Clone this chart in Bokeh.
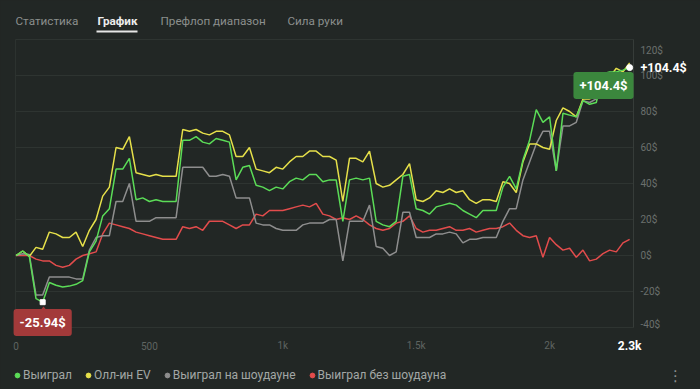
from bokeh.plotting import figure
from bokeh.models import (Range1d, Label, Legend, LegendItem, PolyAnnotation,
                          GlobalInlineStyleSheet)
from bokeh.core.properties import value
from bokeh.embed import file_html
from bokeh.resources import INLINE

# ---------------- data ----------------
hands = list(range(0, 2301, 25))

green = [0, 2.5, -0.5, -24, -25.94, -15, -16.5, -17.5, -17, -16,
         -14, 2, 8, 22, 26, 48, 48, 54, 31, 32,
         30, 31, 30, 30, 30, 64, 64, 66, 63, 62,
         65, 64, 63, 42, 49, 50, 39, 38, 36, 38,
         37, 41, 43, 42, 45, 45, 41, 42, 42, 19,
         42, 43, 42, 43, 19, 17, 16, 19, 44, 45,
         26, 25, 23, 27, 28, 29, 28, 25, 23, 21,
         25, 25, 25, 38, 44, 37, 53, 64, 81, 74,
         77, 47, 79, 78, 77, 86, 84, 85, 101, 102,
         102, 103, 104.4]

yellow = [0, 2.5, -0.5, 4.5, 3.5, 13, 12, 10, 10, 13,
          5, 14, 20, 33, 38, 60, 59, 66, 46, 45,
          44, 45, 44, 44, 44, 70, 69, 70, 68, 67,
          69, 69, 67, 55, 55, 60, 48, 47, 46, 49,
          48, 52, 55, 55, 58, 58, 55, 55, 53, 30,
          54, 54, 52, 58, 40, 38, 39, 42, 45, 51,
          31, 30, 32, 36, 35, 37, 35, 36, 31, 29,
          31, 31, 30, 41, 40, 35, 52, 62, 62, 60,
          59, 75, 82, 80, 77, 87, 87, 88, 100, 99,
          104, 102, 107]

gray = [0, 1, 0.5, -22, -22, -12, -12, -12, -12, -13,
        -13, 3, 10, 11, 11, 30, 30, 40, 19, 19,
        19, 21, 21, 21, 21, 49, 49, 49, 49, 44,
        44, 45, 44, 32, 32, 32, 18, 17, 17, 15,
        14, 14, 14, 17, 18, 18, 18, 20, 20, -3,
        19, 19, 19, 28, 5, 4, 0, 2, 24, 24,
        10, 10, 10, 12, 12, 13, 12, 7, 9, 9,
        10, 10, 10, 19, 26, 26, 42, 52, 62, 69,
        69, 47, 72, 72, 74, 86, 85, 87, 100, 100,
        99, 96, 95]

red = [0, 0, 0, -2, -3, -3, -5.5, -6.5, -5.5, -2,
       0, 1, 2, 12, 18, 17, 16, 15, 13, 12,
       11, 10, 9, 9, 9, 16, 15, 16, 14, 19,
       19, 19, 17, 15, 17, 17, 23, 22, 25, 25,
       25, 26, 27, 28, 27, 29, 23, 22, 20, 21,
       20, 22, 20, 17, 15, 14, 15, 18, 19, 22,
       15, 13, 14, 14, 15, 16, 14, 14, 15, 13,
       14, 15, 15, 16, 18, 14, 11, 10, 11, -1,
       10, 6, 3, 4, -1, 3, -3, -2, 1, 3,
       2, 7, 9]

series_names = ["Выиграл", "Олл-ин EV", "Выиграл на шоудауне", "Выиграл без шоудауна"]
tabs = ["Статистика", "График", "Префлоп диапазон", "Сила руки"]
x_ticks = [0, 500, 1000, 1500, 2000]
x_tick_labels = ["0", "500", "1k", "1.5k", "2k"]
y_ticks = [-40, -20, 0, 20, 40, 60, 80, 100, 120]

# ---------------- style / layout ----------------
BG = "#222725"
GRID = "#2e3431"
C_GREEN = "#5bdc57"
C_YELLOW = "#e6e04a"
C_GRAY = "#8e8e8e"
C_RED = "#e24c4c"
FONT = "Roboto"

W, H = 700, 389
X0PX, PX_PER_HAND = 15.5, 0.2668     # pixel of hand 0, pixels per hand
Y0PX, PX_PER_USD = 255.0, 1.8        # pixel of 0$, pixels per $
CH_L, CH_R = 15, 633                 # chart area left/right pixels


def xd(px):
    return (px - X0PX) / PX_PER_HAND


def yd(py):
    return (Y0PX - py) / PX_PER_USD


def sy(py):
    return H - py


p = figure(width=W, height=H, output_backend="svg", toolbar_location=None,
           x_range=Range1d(xd(0), xd(W)), y_range=Range1d(yd(H), yd(0)),
           x_axis_location=None, y_axis_location=None,
           min_border_left=0, min_border_right=0, min_border_top=0, min_border_bottom=0)
p.background_fill_color = BG
p.border_fill_color = BG
p.outline_line_color = None
p.grid.visible = False
p.stylesheets = [GlobalInlineStyleSheet(css="html, body { background: #222725; }")]

# grid lines and chart borders
p.segment(x0=[xd(CH_L)] * len(y_ticks), x1=[xd(CH_R)] * len(y_ticks),
          y0=y_ticks, y1=y_ticks, line_color=GRID, line_width=1)
p.segment(x0=[xd(CH_L), xd(CH_R)], x1=[xd(CH_L), xd(CH_R)],
          y0=[y_ticks[0]] * 2, y1=[y_ticks[-1]] * 2,
          line_color=["#2c322f", "#363c39"], line_width=1)

# x tick labels
p.text(x=x_ticks, y=[yd(345)] * len(x_ticks), text=x_tick_labels,
       text_color="#5f6461", text_font_size="10px", text_font=value(FONT),
       text_align="center", text_baseline="middle")
p.text(x=[hands[-1]], y=[yd(345)], text=[f"{hands[-1] / 1000:.1f}k"],
       text_color="white", text_font_style="bold", text_font_size="12px",
       text_font=value(FONT), text_align="center", text_baseline="middle")

# right y tick labels
inner = [t for t in y_ticks if -40 < t < 120]
p.text(x=[xd(640)] * len(inner), y=inner, text=[f"{t}$" for t in inner],
       text_color="#6b706d", text_font_size="10px", text_font=value(FONT),
       text_align="left", text_baseline="middle")
p.text(x=[xd(640)] * 2, y=[yd(50), yd(324)], text=[f"{y_ticks[-1]}$", f"{y_ticks[0]}$"],
       text_color="#6b706d", text_font_size="10px", text_font=value(FONT),
       text_align="left", text_baseline="middle")

# lines
p.line(hands, red, line_color=C_RED, line_width=1.5)
p.line(hands, gray, line_color=C_GRAY, line_width=1.5)
p.line(hands, yellow, line_color=C_YELLOW, line_width=1.5)
p.line(hands, green, line_color=C_GREEN, line_width=1.5)

gmin = min(green)
imin = green.index(gmin)
gmax = max(green)

p.scatter([hands[imin]], [gmin], marker="square", size=5, color="white")
p.scatter([hands[-1]], [green[-1]], size=6, color="white")

# min label box with pointer
p.add_layout(PolyAnnotation(xs=[38, 48, 43], ys=[sy(312), sy(312), sy(306)],
                            xs_units="screen", ys_units="screen",
                            fill_color="#a33a3a", fill_alpha=1, line_color=None))
p.add_layout(Label(x=hands[imin], y=sy(322), y_units="screen", text=f"{gmin:.2f}$",
                   text_color="white", text_font_style="bold", text_font_size="13px",
                   text_font=FONT, text_align="center", text_baseline="middle",
                   background_fill_color="#a33a3a", padding=6, border_radius=3))
# max label box
p.add_layout(Label(x=603, y=sy(85), x_units="screen", y_units="screen",
                   text=f"+{gmax:.1f}$",
                   text_color="white", text_font_style="bold", text_font_size="13px",
                   text_font=FONT, text_align="center", text_baseline="middle",
                   background_fill_color="#3b873d", padding=6, border_radius=3))
# current value at right
p.add_layout(Label(x=640, y=green[-1], x_units="screen", text=f"+{green[-1]:.1f}$",
                   text_color="white", text_font_style="bold", text_font_size="12.5px",
                   text_font=FONT, text_align="left", text_baseline="middle"))

# tabs
tab_x = [15, 97, 160, 287]
for i, (t, xx) in enumerate(zip(tabs, tab_x)):
    active = (i == 1)
    p.add_layout(Label(x=xx, y=sy(20), x_units="screen", y_units="screen", text=t,
                       text_color="#ececec" if active else "#8b8f8d",
                       text_font_style="bold" if active else "normal",
                       text_font_size="11.7px", text_font=FONT,
                       text_align="left", text_baseline="middle"))
p.add_layout(PolyAnnotation(xs=[96, 137, 137, 96], ys=[sy(30), sy(30), sy(32), sy(32)],
                            xs_units="screen", ys_units="screen",
                            fill_color="#e6e6e6", fill_alpha=1, line_color=None))

# legend (renderers carry one NaN point so that only the legend dot shows)
items = []
for name, col in zip(series_names, [C_GREEN, C_YELLOW, C_GRAY, C_RED]):
    r = p.scatter(x=[float("nan")], y=[float("nan")], size=5, color=col)
    items.append(LegendItem(label=name, renderers=[r]))
legend = Legend(items=items, orientation="horizontal", location=(11, H - 382),
                glyph_width=12, glyph_height=12, label_standoff=0, spacing=10,
                padding=0, margin=0, label_height=14,
                label_text_font=FONT, label_text_font_size="12px",
                label_text_color="#a3a7a5", border_line_alpha=0, background_fill_alpha=0)
p.add_layout(legend)

p.add_layout(Label(x=675, y=sy(375), x_units="screen", y_units="screen", text="⋮",
                   text_color="#8b8f8d", text_font_size="15px", text_font="DejaVu Sans",
                   text_align="center", text_baseline="middle"))

open("out.html", "w").write(file_html(p, INLINE))
